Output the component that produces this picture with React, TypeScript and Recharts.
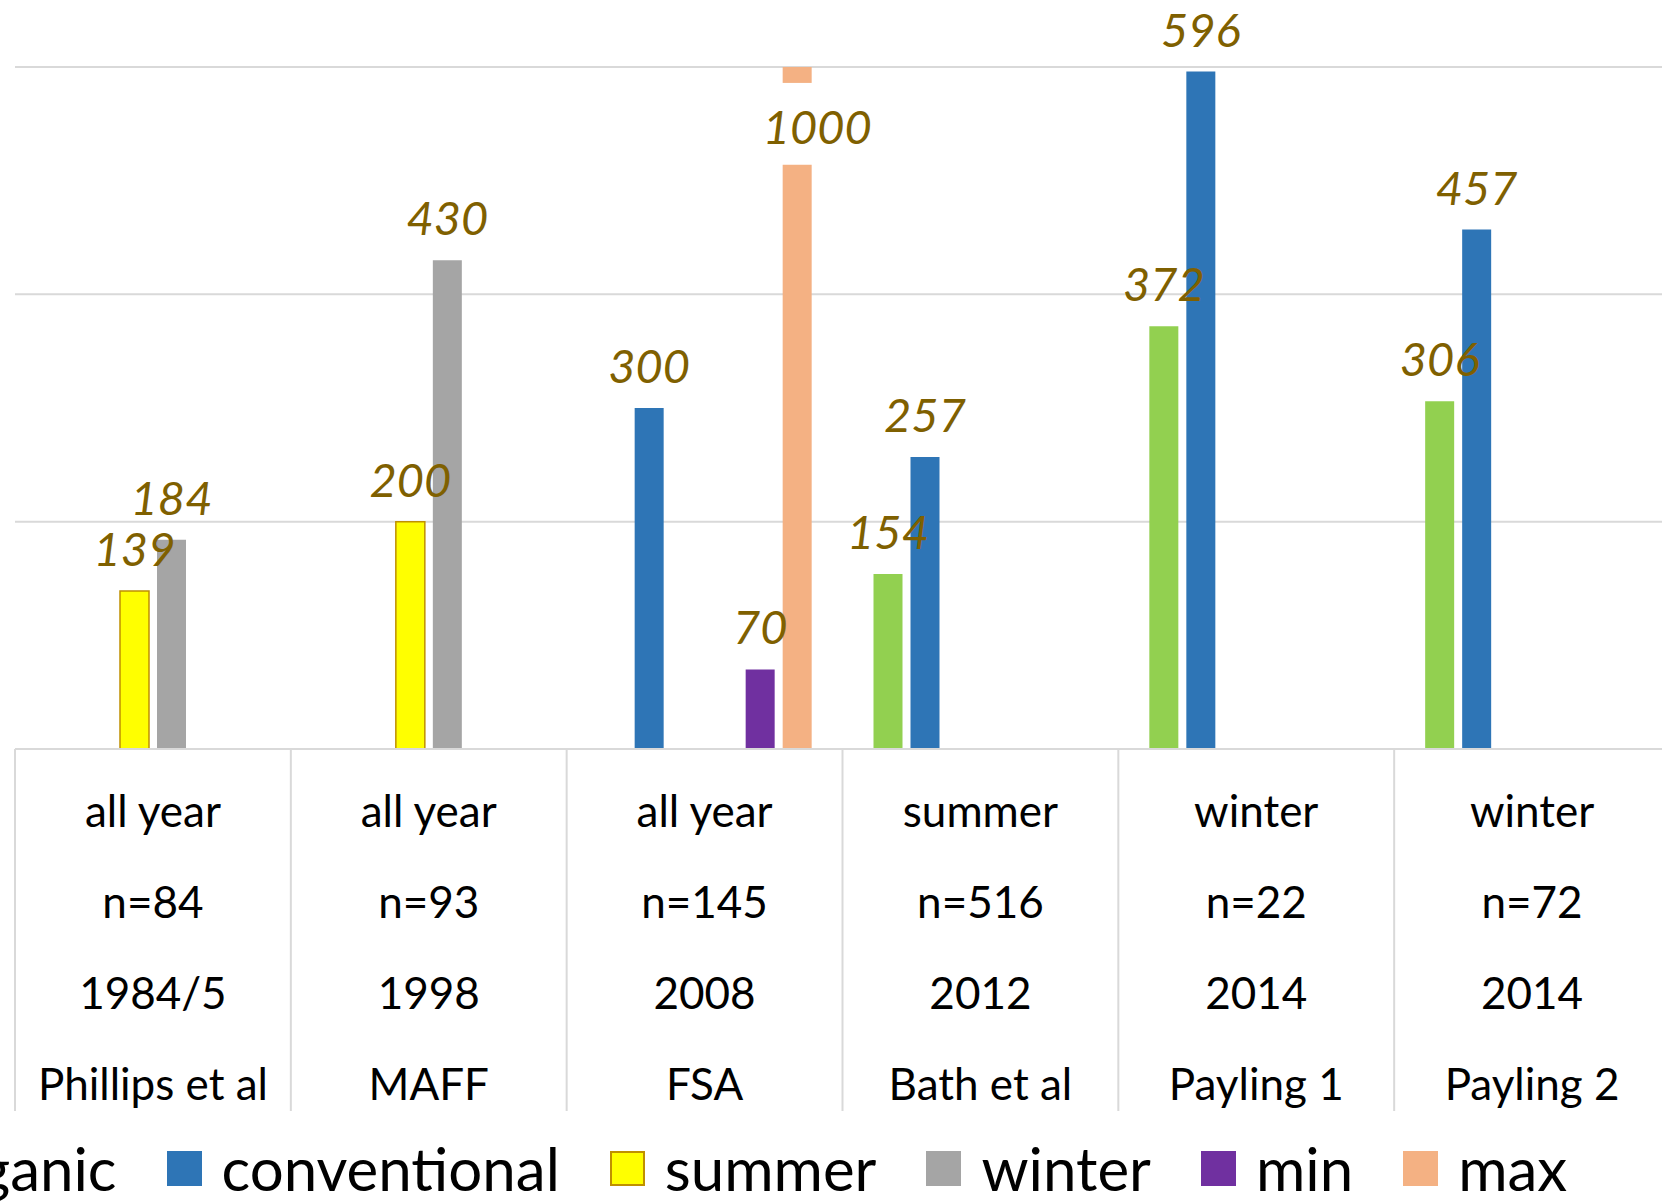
import React from 'react';
import { BarChart, Bar, XAxis, YAxis, CartesianGrid, LabelList, Legend } from 'recharts';

// category levels (top to bottom in the axis table)
const seasons = ['all year', 'all year', 'all year', 'summer', 'winter', 'winter'];
const sampleSizes = ['n=84', 'n=93', 'n=145', 'n=516', 'n=22', 'n=72'];
const years = ['1984/5', '1998', '2008', '2012', '2014', '2014'];
const sources = ['Phillips et al', 'MAFF', 'FSA', 'Bath et al', 'Payling 1', 'Payling 2'];

// series values
const organic = [null, null, null, 154, 372, 306];
const conventional = [null, null, 300, 257, 596, 457];
const summer = [139, 200, null, null, null, null];
const winter = [184, 430, null, null, null, null];
const minValues = [null, null, 70, null, null, null];
const maxValues = [null, null, 1000, null, null, null];

const yTicks = [0, 200, 400, 600];
// the "max" bar is drawn broken between these axis values
const breakRange = [514, 586];

const FONT = 'Lato, "Open Sans", sans-serif';
const LABEL_COLOR = '#7F6000';
const GRID = '#D9D9D9';

const series = [
  { key: 'organic', name: 'organic', color: '#92D050' },
  { key: 'conventional', name: 'conventional', color: '#2E75B6' },
  { key: 'summer', name: 'summer', color: '#FFFF00', stroke: '#BF9000' },
  { key: 'winter', name: 'winter', color: '#A5A5A5' },
  { key: 'min', name: 'min', color: '#7030A0' },
  { key: 'max', name: 'max', color: '#F4B183' },
];

const data = sources.map((source, i) => ({
  source,
  organic: organic[i],
  conventional: conventional[i],
  summer: summer[i],
  winter: winter[i],
  min: minValues[i],
  max: maxValues[i],
}));

const CategoryTick = (props: any) => {
  const { x, y, payload, width, visibleTicksCount } = props;
  const count = visibleTicksCount || sources.length;
  const band = width ? width / count : 276;
  const i = payload.index;
  const rows = [seasons[i], sampleSizes[i], years[i], sources[i]];
  const left = x - band / 2;
  const right = x + band / 2;
  return (
    <g>
      <line x1={left} x2={left} y1={y} y2={y + 362} stroke={GRID} strokeWidth={2} />
      {i === count - 1 && <line x1={right} x2={right} y1={y} y2={y + 362} stroke={GRID} strokeWidth={2} />}
      {rows.map((r, k) => (
        <text key={k} x={x} y={y + 78 + k * 91} textAnchor="middle" fill="#000" fontSize={44} fontFamily={FONT}>
          {r}
        </text>
      ))}
    </g>
  );
};

const ValueLabel = (props: any) => {
  const { x, y, width, value } = props;
  if (value == null) return null;
  return (
    <text x={x + width / 2} y={y - 25} textAnchor="middle" fill={LABEL_COLOR} fontStyle="italic" fontSize={47} fontFamily={FONT}>
      {value}
    </text>
  );
};

const BrokenLabel = (props: any) => {
  const { x, y, width, height, value } = props;
  if (value == null || !height) return null;
  const ppu = height / value;
  const base = y + height;
  const gapTop = base - breakRange[1] * ppu;
  const gapBottom = base - breakRange[0] * ppu;
  return (
    <text x={x + width / 2 + 20} y={(gapTop + gapBottom) / 2 + 20} textAnchor="middle" fill={LABEL_COLOR} fontStyle="italic" fontSize={47} fontFamily={FONT}>
      {value}
    </text>
  );
};

const BrokenBar = (props: any) => {
  const { x, y, width, height, fill, background, payload } = props;
  const v = payload ? payload.max : null;
  if (v == null || !height) return null;
  const ppu = height / v;
  const base = y + height;
  const top = background ? Math.max(y, background.y) : y;
  const gapTop = base - breakRange[1] * ppu;
  const gapBottom = base - breakRange[0] * ppu;
  return (
    <g>
      <rect x={x} y={top} width={width} height={Math.max(0, gapTop - top)} fill={fill} />
      <rect x={x} y={gapBottom} width={width} height={base - gapBottom} fill={fill} />
    </g>
  );
};

const renderLegend = () => (
  <div
    style={{
      display: 'flex',
      justifyContent: 'center',
      alignItems: 'center',
      gap: 50,
      width: 1436,
      height: 70,
      fontFamily: FONT,
      fontSize: 60,
      color: '#000',
      whiteSpace: 'nowrap',
    }}
  >
    {series.map((s) => (
      <div key={s.key} style={{ display: 'flex', alignItems: 'center', flex: 'none' }}>
        <span
          style={{
            display: 'inline-block',
            width: 35,
            height: 35,
            boxSizing: 'border-box',
            background: s.color,
            border: s.stroke ? `2px solid ${s.stroke}` : 'none',
          }}
        />
        <span style={{ marginLeft: 20 }}>{s.name}</span>
      </div>
    ))}
  </div>
);

const App: React.FC = () => {
  return (
    <div style={{ position: 'fixed', left: 0, top: 0, width: 1662, height: 1203, overflow: 'hidden', background: '#fff' }}>
      <BarChart width={1700} height={1203} data={data} margin={{ top: 67, right: 30, bottom: 0, left: 15 }} barSize={29} barGap={8}>
        <CartesianGrid vertical={false} stroke={GRID} strokeWidth={2} />
        <XAxis
          dataKey="source"
          height={454}
          interval={0}
          tickLine={false}
          tickSize={0}
          tickMargin={0}
          axisLine={{ stroke: GRID, strokeWidth: 2 }}
          tick={<CategoryTick />}
        />
        <YAxis hide domain={[0, 600]} ticks={yTicks} allowDataOverflow />
        <Legend
          layout="horizontal"
          verticalAlign="middle"
          align="center"
          content={renderLegend}
          wrapperStyle={{ left: 0, top: 1133, width: 1436, height: 70 }}
        />
        {series.map((s) =>
          s.key === 'max' ? (
            <Bar key={s.key} dataKey={s.key} name={s.name} fill={s.color} shape={<BrokenBar />} isAnimationActive={false}>
              <LabelList dataKey={s.key} content={<BrokenLabel />} />
            </Bar>
          ) : (
            <Bar
              key={s.key}
              dataKey={s.key}
              name={s.name}
              fill={s.color}
              stroke={s.stroke}
              strokeWidth={s.stroke ? 1.5 : 0}
              isAnimationActive={false}
            >
              <LabelList dataKey={s.key} content={<ValueLabel />} />
            </Bar>
          )
        )}
      </BarChart>
    </div>
  );
};

export default App;
